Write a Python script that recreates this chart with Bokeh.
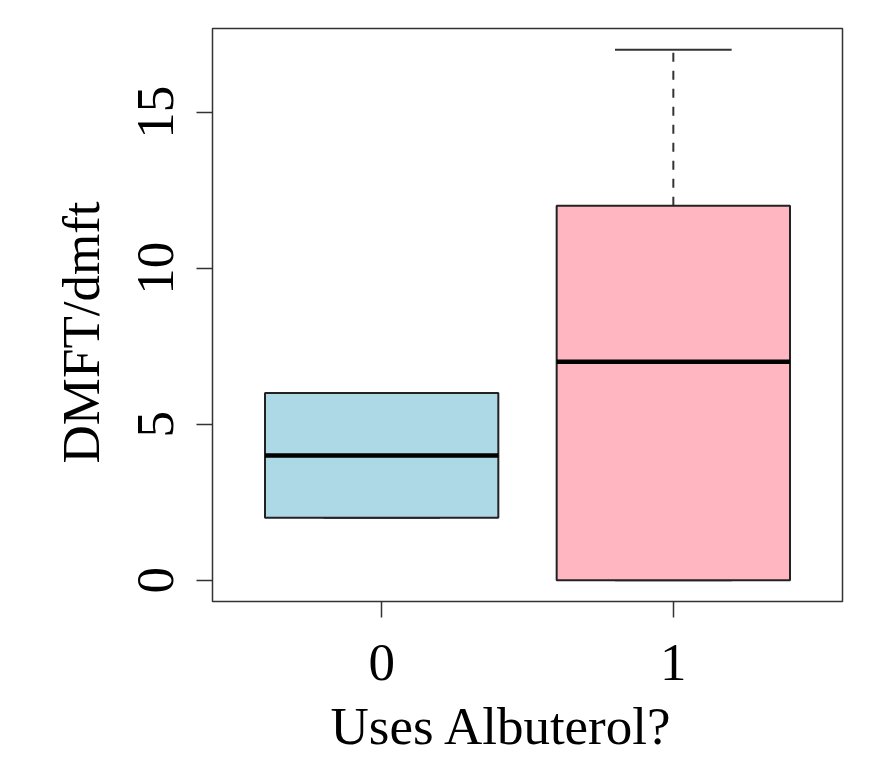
from bokeh.plotting import figure
from bokeh.models import Range1d, FixedTicker, Title
from bokeh.embed import file_html
from bokeh.resources import INLINE

# Data
groups = ["0", "1"]
lower = [2, 0]
q1 = [2, 0]
median = [4, 7]
q3 = [6, 12]
upper = [6, 17]
colors = ["#ADD8E6", "#FFB6C1"]
y_ticks = [0, 5, 10, 15]
x_title = "Uses Albuterol?"
y_title = "DMFT/dmft"

pos = [i + 1 for i in range(len(groups))]
bw = 0.8
cap = 0.4

W, H = 871, 767
FRAME_W, FRAME_H = 630, 573
ymin = min(lower)
ymax = max(upper)
pad = (ymax - ymin) * 0.04
y0, y1 = ymin - pad, ymax + pad
x0, x1 = 0.5 - 0.08, len(groups) + 0.5 + 0.08

p = figure(width=W, height=H,
           x_range=Range1d(x0, x1), y_range=Range1d(y0, y1),
           output_backend="svg", toolbar_location=None,
           min_border_left=212, min_border_right=W - 212 - FRAME_W,
           min_border_top=28, min_border_bottom=H - 28 - FRAME_H)
p.grid.visible = False
p.outline_line_color = "#333333"
p.outline_line_width = 1.5
p.background_fill_color = "white"

FONT = "Liberation Serif"
FS = "53px"
for ax in (p.xaxis[0], p.yaxis[0]):
    ax.axis_line_color = None
    ax.major_tick_line_color = "#333333"
    ax.major_tick_line_width = 1.5
    ax.major_tick_out = 16
    ax.major_tick_in = 0
    ax.minor_tick_line_color = None
    ax.major_label_text_font = FONT
    ax.major_label_text_font_size = FS
    ax.major_label_text_color = "black"

p.xaxis.ticker = FixedTicker(ticks=pos)
p.xaxis.major_label_overrides = {pv: g for pv, g in zip(pos, groups)}
p.xaxis.major_label_standoff = 27

p.yaxis.ticker = FixedTicker(ticks=y_ticks)
p.yaxis.major_label_orientation = "vertical"
p.yaxis.major_label_standoff = 23

p.add_layout(Title(text=x_title, align="left", offset=118, standoff=25,
                   vertical_align="bottom",
                   text_font=FONT, text_font_size=FS,
                   text_font_style="normal", text_color="black"), "below")
p.add_layout(Title(text=y_title, align="left", offset=138, standoff=52,
                   text_font=FONT, text_font_size=FS,
                   text_font_style="normal", text_color="black"), "left")

LC = "#333333"
# whiskers
p.segment(x0=pos, y0=q3, x1=pos, y1=upper, line_color=LC,
          line_width=2, line_dash="9 9")
p.segment(x0=pos, y0=lower, x1=pos, y1=q1, line_color=LC,
          line_width=2, line_dash="9 9")
p.segment(x0=[x - cap / 2 for x in pos], y0=upper,
          x1=[x + cap / 2 for x in pos], y1=upper,
          line_color=LC, line_width=2)
p.segment(x0=[x - cap / 2 for x in pos], y0=lower,
          x1=[x + cap / 2 for x in pos], y1=lower,
          line_color=LC, line_width=2)
# boxes
p.quad(left=[x - bw / 2 for x in pos], right=[x + bw / 2 for x in pos],
       bottom=q1, top=q3, fill_color=colors, line_color="#222222",
       line_width=2)
# medians
p.segment(x0=[x - bw / 2 for x in pos], y0=median,
          x1=[x + bw / 2 for x in pos], y1=median,
          line_color="black", line_width=4.5)

open("out.html", "w").write(file_html(p, INLINE))
